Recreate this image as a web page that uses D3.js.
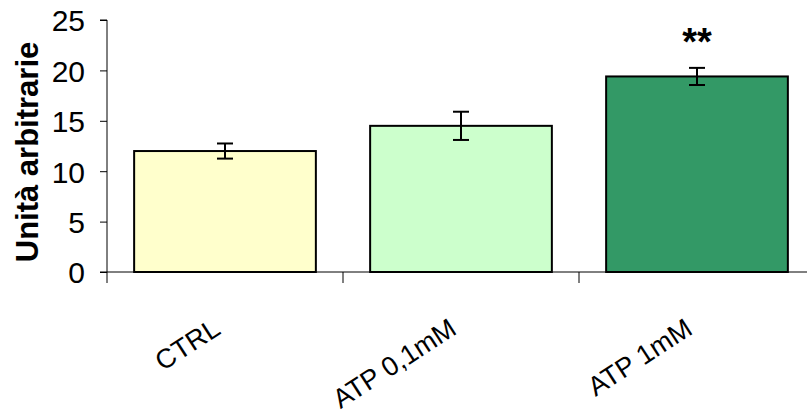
<!DOCTYPE html>
<html><head><meta charset="utf-8">
<script src="https://cdn.jsdelivr.net/npm/d3@7/dist/d3.min.js"></script>
<style>body{margin:0;background:#fff}svg{display:block}text{font-family:"Liberation Sans",Arial,sans-serif}</style>
</head><body><svg id="c" width="807" height="414"></svg>
<script>
const categories = ["CTRL", "ATP 0,1mM", "ATP 1mM"];
const values = [12.0, 14.5, 19.4];
const errors = [0.75, 1.4, 0.85];
const colors = ["#FFFFCC", "#CCFFCC", "#339966"];
const yTicks = [0, 5, 10, 15, 20, 25];
const significance = ["", "", "**"];

const svg = d3.select("#c");
const x0 = 107, x1 = 815, yTop = 20, yBot = 272;
const x = d3.scaleBand().domain(categories).range([x0, x1]).paddingInner(0.23).paddingOuter(0.115);
const y = d3.scaleLinear().domain([0, 25]).range([yBot, yTop]);

// y axis
const yAxis = svg.append("g").attr("transform", `translate(${x0},0)`)
  .call(d3.axisLeft(y).tickValues(yTicks).tickSize(7).tickPadding(15));
yAxis.select(".domain").attr("stroke", "#000").attr("d", `M-7,${yTop}H0V${yBot}`);
yAxis.selectAll(".tick line").attr("stroke", "#000");
yAxis.selectAll("text").attr("font-size", 30).attr("fill", "#000").attr("dy", "0.36em")
  .style("font-family", '"Liberation Sans",Arial,sans-serif');

// x axis line and ticks at band boundaries
svg.append("line").attr("x1", x0 - 7).attr("x2", 807).attr("y1", yBot).attr("y2", yBot).attr("stroke", "#000");
const step = x.step();
svg.selectAll(".xt").data(d3.range(categories.length + 1)).join("line")
  .attr("x1", i => x0 + i * step).attr("x2", i => x0 + i * step)
  .attr("y1", yBot).attr("y2", yBot + 11).attr("stroke", "#000");

// bars
svg.selectAll(".bar").data(categories).join("rect")
  .attr("x", d => x(d)).attr("width", x.bandwidth())
  .attr("y", (d, i) => y(values[i])).attr("height", (d, i) => yBot - y(values[i]))
  .attr("fill", (d, i) => colors[i]).attr("stroke", "#000").attr("stroke-width", 2);

// error bars
const eb = svg.selectAll(".eb").data(categories).join("g");
eb.append("line").attr("x1", d => x(d) + x.bandwidth() / 2).attr("x2", d => x(d) + x.bandwidth() / 2)
  .attr("y1", (d, i) => y(values[i] + errors[i])).attr("y2", (d, i) => y(values[i] - errors[i]))
  .attr("stroke", "#000").attr("stroke-width", 2);
[1, -1].forEach(s => {
  eb.append("line").attr("x1", d => x(d) + x.bandwidth() / 2 - 8).attr("x2", d => x(d) + x.bandwidth() / 2 + 8)
    .attr("y1", (d, i) => y(values[i] + s * errors[i])).attr("y2", (d, i) => y(values[i] + s * errors[i]))
    .attr("stroke", "#000").attr("stroke-width", 2);
});

// significance
svg.selectAll(".sig").data(categories).join("text")
  .attr("x", d => x(d) + x.bandwidth() / 2).attr("y", 55)
  .attr("text-anchor", "middle").attr("font-size", 38).attr("font-weight", "bold")
  .text((d, i) => significance[i]);

// x labels
svg.selectAll(".xl").data(categories).join("text")
  .attr("text-anchor", "end").attr("font-size", 27)
  .attr("transform", d => `translate(${x(d) + x.bandwidth() / 2 - 3},333) rotate(-33)`)
  .text(d => d);

// y title
svg.append("text").attr("transform", "translate(38,152) rotate(-90)")
  .attr("text-anchor", "middle").attr("font-size", 31).attr("font-weight", "bold")
  .text("Unità arbitrarie");
</script></body></html>
